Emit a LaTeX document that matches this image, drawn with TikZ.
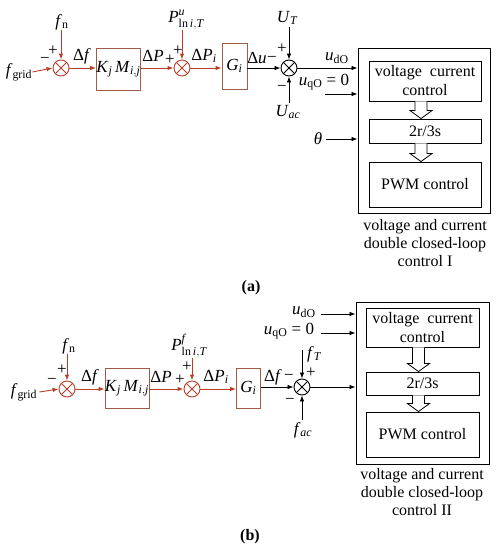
\documentclass[tikz,border=0pt]{standalone}
\usepackage{amsmath}
\usepackage{fontspec}
\setmainfont{Liberation Serif}
\usetikzlibrary{arrows.meta,calc}
\definecolor{lred}{RGB}{185,62,42}
\definecolor{bbrown}{RGB}{160,92,72}
\newcommand\mi[1]{\textit{#1}}
\newcommand\hollowarr[3]{%
  \draw[line width=0.8pt, fill=white] let \p1=($(#1.south)+(#3,0)$), \p2=(#2.north) in
  (\x1-6pt,\y1) -- (\x1-6pt,\y2+8pt) -- (\x1-11pt,\y2+8pt) -- (\x1,\y2) -- (\x1+11pt,\y2+8pt) -- (\x1+6pt,\y2+8pt) -- (\x1+6pt,\y1);}
\tikzset{
  lbl/.style={font=\fontsize{17}{19}\selectfont, inner sep=0pt},
  sgn/.style={font=\fontsize{17}{17}\selectfont, inner sep=0pt},
  sumr/.style={circle, draw=lred, line width=0.9pt, minimum size=16pt, inner sep=0pt,
    path picture={\draw[lred, line width=0.9pt] (path picture bounding box.south west) -- (path picture bounding box.north east)
      (path picture bounding box.north west) -- (path picture bounding box.south east);}},
  sumk/.style={circle, draw=black, line width=0.9pt, minimum size=16pt, inner sep=0pt,
    path picture={\draw[black, line width=0.9pt] (path picture bounding box.south west) -- (path picture bounding box.north east)
      (path picture bounding box.north west) -- (path picture bounding box.south east);}},
  rbox/.style={draw=bbrown, line width=0.9pt, inner sep=0pt, font=\fontsize{17}{19}\selectfont},
  kbox/.style={draw=black, line width=0.9pt, inner sep=0pt, align=center, font=\fontsize{16}{19}\selectfont},
  obox/.style={draw=black, line width=0.9pt, inner sep=0pt},
  rarr/.style={lred, line width=0.9pt, -{Latex[length=6pt,width=4.5pt]}},
  karr/.style={black, line width=0.8pt, -{Latex[length=6pt,width=4.5pt]}},
  captxt/.style={align=center, inner sep=0pt, font=\fontsize{16}{18}\selectfont},
  tagtxt/.style={inner sep=0pt, font=\fontsize{16}{18}\selectfont\bfseries},
}
\begin{document}
\begin{tikzpicture}[x=1pt, y=-1pt]
\useasboundingbox (0,0) rectangle (499,550);
% ================= (a) =================
\node[lbl] (fgA) at (19,72) {\mi{f}$_{\text{grid}}$};
\node[sumr] (s1A) at (61,68) {};
\node[lbl] (fnA) at (62,22) {\mi{f}$_{\text{n}}$};
\node[sgn] (p1A) at (53,51) {+};
\node[sgn] (m1A) at (45,60) {−};
\node[rbox, minimum width=43pt, minimum height=42pt] (kmA) at (118.5,69) {\mi{K}$_{\textit{j}}$\,\mi{M}$_{\textit{i},\textit{j}}$};
\node[lbl] (dfA) at (82,56) {Δ\mi{f}};
\node[lbl] (dPA) at (153,56) {Δ\mi{P}};
\node[sgn] (p2A) at (170,60) {+};
\node[sumr] (s2A) at (182,68) {};
\node[lbl] (PA) at (186,20) {\mi{P}$^{\textit{u}}_{\text{ln}\,\textit{i},\textit{T}}$};
\node[sgn] (p3A) at (178,51) {+};
\node[lbl] (dPiA) at (204,56) {Δ\mi{P}$_{\textit{i}}$};
\node[rbox, minimum width=25pt, minimum height=46pt] (giA) at (234.5,66) {\mi{G}$_{\textit{i}}$};
\node[lbl] (duA) at (257,58) {Δ\mi{u}};
\node[sgn] (m2A) at (272,59) {−};
\node[sgn] (p4A) at (282,49) {+};
\node[sgn] (m3A) at (282,88) {−};
\node[sumk] (s3A) at (289,68) {};
\node[lbl] (UTA) at (287,18) {\mi{U}$_{\textit{T}}$};
\node[lbl] (UacA) at (288,112) {\mi{U}$_{\textit{ac}}$};
\node[obox, minimum width=132pt, minimum height=165pt] (oA) at (424,130.5) {};
\node[kbox, minimum width=112pt, minimum height=40pt] (b1A) at (425,81) {voltage\ \ current\\control};
\node[kbox, minimum width=112pt, minimum height=24pt] (b2A) at (425,131) {2r/3s};
\node[kbox, minimum width=112pt, minimum height=45pt] (b3A) at (425,184.5) {PWM control};
\node[lbl] (udA) at (337,58) {\mi{u}$_{\text{dO}}$};
\node[lbl] (uqA) at (324,82) {\mi{u}$_{\text{qO}}$ = 0};
\coordinate (uqAs) at (325,94);
\node[lbl] (thA) at (318,139) {\mi{θ}};
\node[captxt] (cA) at (425,243) {voltage and current\\double closed-loop\\control I};
\node[tagtxt] (tA) at (251,288) {(a)};
% connectors (a)
\draw[rarr] (fgA.east) -- (s1A.west);
\draw[rarr] (s1A |- fnA.south) -- (s1A.north);
\draw[rarr] (s1A.east) -- (s1A.east -| kmA.west);
\draw[rarr] (s2A.west -| kmA.east) -- (s2A.west);
\draw[rarr] (s2A |- PA.south) -- (s2A.north);
\draw[rarr] (s2A.east) -- (s2A.east -| giA.west);
\draw[karr] (s3A.west -| giA.east) -- (s3A.west);
\draw[karr] (s3A |- UTA.south) ++(0,2) -- (s3A.north);
\draw[karr] (s3A |- UacA.north) ++(0,-2) -- (s3A.south);
\draw[karr] (s3A.east) -- (s3A.east -| oA.west);
\draw[karr] (uqAs) -- (uqAs -| oA.west);
\draw[karr] ($(thA.east)+(4,0)$) -- (thA.east -| oA.west);
\hollowarr{b1A}{b2A}{-4}
\hollowarr{b2A}{b3A}{-4}
% ================= (b) =================
\node[lbl] (fgB) at (24,392) {\mi{f}$_{\text{grid}}$};
\node[sumr] (s1B) at (67,389) {};
\node[lbl] (fnB) at (69,346) {\mi{f}$_{\text{n}}$};
\node[sgn] (p1B) at (62,370) {+};
\node[sgn] (m1B) at (52,381) {−};
\node[lbl] (dfB) at (90,377) {Δ\mi{f}};
\node[rbox, minimum width=44pt, minimum height=40pt] (kmB) at (127,388) {\mi{K}$_{\textit{j}}$\,\mi{M}$_{\textit{i},\textit{j}}$};
\node[lbl] (dPB) at (161,377) {Δ\mi{P}};
\node[sgn] (p2B) at (180,380) {+};
\node[sumr] (s2B) at (192,389) {};
\node[lbl] (PB) at (189,346) {\mi{P}$^{\textit{f}}_{\text{ln}\,\textit{i},\textit{T}}$};
\node[sgn] (p3B) at (187,367) {+};
\node[lbl] (dPiB) at (216,377) {Δ\mi{P}$_{\textit{i}}$};
\node[rbox, minimum width=24pt, minimum height=40pt] (giB) at (248.5,388) {\mi{G}$_{\textit{i}}$};
\node[lbl] (dfB2) at (273,377) {Δ\mi{f}};
\node[sgn] (m2B) at (289,377) {−};
\node[sgn] (p4B) at (311,373) {+};
\node[sgn] (m3B) at (290,401) {−};
\node[sumk] (s3B) at (302,387) {};
\node[lbl] (fTB) at (314,354) {\mi{f}$_{\textit{T}}$};
\coordinate (fTs) at (302,350);
\node[lbl] (facB) at (303,430) {\mi{f}$_{\textit{ac}}$};
\node[obox, minimum width=133pt, minimum height=162pt] (oB) at (422.5,383) {};
\node[kbox, minimum width=113pt, minimum height=39pt] (b1B) at (422.5,327.5) {voltage\ \ current\\control};
\node[kbox, minimum width=113pt, minimum height=23pt] (b2B) at (422.5,383.5) {2r/3s};
\node[kbox, minimum width=113pt, minimum height=45pt] (b3B) at (422.5,434.5) {PWM control};
\node[lbl] (udB) at (304,312) {\mi{u}$_{\text{dO}}$};
\coordinate (udBs) at (321,314);
\node[lbl] (uqB) at (289,331) {\mi{u}$_{\text{qO}}$ = 0};
\coordinate (uqBs) at (321,333);
\node[captxt] (cB) at (422,492) {voltage and current\\double closed-loop\\control II};
\node[tagtxt] (tB) at (250,537) {(b)};
% connectors (b)
\draw[rarr] ($(fgB.east)+(2,0)$) -- (s1B.west);
\draw[rarr] (s1B |- fnB.south) -- (s1B.north);
\draw[rarr] (s1B.east) -- (s1B.east -| kmB.west);
\draw[rarr] (s2B.west -| kmB.east) -- (s2B.west);
\draw[rarr] (s2B |- PB.south) -- (s2B.north);
\draw[rarr] (s2B.east) -- (s2B.east -| giB.west);
\draw[karr] (s3B.west -| giB.east) -- (s3B.west);
\draw[karr] (fTs) -- (s3B.north);
\draw[karr] (s3B |- facB.north) ++(0,-2) -- (s3B.south);
\draw[karr] (s3B.east) -- (s3B.east -| oB.west);
\draw[karr] (udBs) -- (udBs -| oB.west);
\draw[karr] (uqBs) -- (uqBs -| oB.west);
\hollowarr{b1B}{b2B}{-4}
\hollowarr{b2B}{b3B}{-4}
\end{tikzpicture}
\end{document}
